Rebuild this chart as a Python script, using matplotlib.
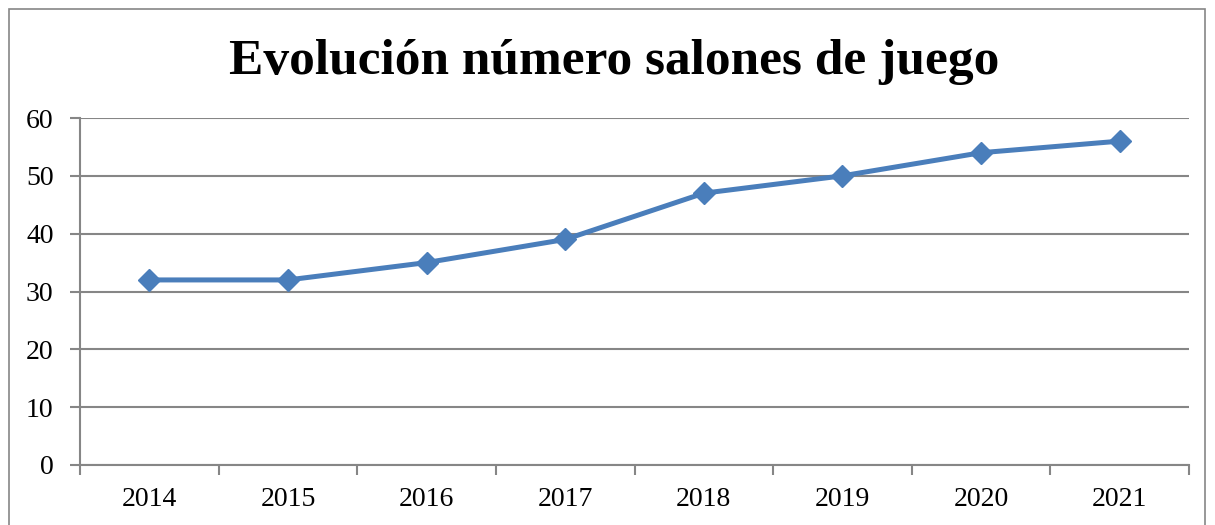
import matplotlib
matplotlib.use('Agg')
import matplotlib.pyplot as plt
from matplotlib.patches import Rectangle
import numpy as np

# datos
years = ['2014', '2015', '2016', '2017', '2018', '2019', '2020', '2021']
salones = [32, 32, 35, 39, 47, 50, 54, 56]
yticks = [0, 10, 20, 30, 40, 50, 60]

plt.rcParams['font.family'] = ['Liberation Serif', 'DejaVu Serif']

fig = plt.figure(figsize=(12.15, 5.25), dpi=100)
ax = fig.add_axes([80 / 1215, 60 / 525, 1109 / 1215, 347 / 525])

x = np.arange(len(years))
ax.plot(x, salones, color='#4A7EBB', linewidth=3.6, marker='D',
        markersize=11, markerfacecolor='#4A7EBB', markeredgecolor='#4A7EBB',
        zorder=3)

ax.set_xlim(-0.5, len(years) - 0.5)
ax.set_ylim(0, 60)
ax.set_yticks(yticks)
ax.set_yticklabels([str(v) for v in yticks])
ax.set_xticks(x)
ax.set_xticklabels(years)
ax.set_xticks(np.arange(-0.5, len(years)), minor=True)

grid_c = '#868686'
ax.grid(axis='y', color=grid_c, linewidth=1.5, zorder=0)
for s in ['top', 'right']:
    ax.spines[s].set_visible(False)
for s in ['left', 'bottom']:
    ax.spines[s].set_color(grid_c)
    ax.spines[s].set_linewidth(1.5)

ax.tick_params(axis='y', length=7, width=1.5, color=grid_c, labelsize=20, pad=12)
ax.tick_params(axis='x', which='major', length=0, labelsize=20, pad=16)
ax.tick_params(axis='x', which='minor', length=7, width=1.5, color=grid_c)

fig.text(614 / 1215, 1 - 62 / 525, 'Evolución número salones de juego',
         ha='center', va='center', fontsize=37, fontweight='bold')

# marco exterior
fig.patches.append(Rectangle((9 / 1215, -0.05), 1196 / 1215, 1.05 - 9 / 525,
                             transform=fig.transFigure, fill=False,
                             edgecolor='#868686', linewidth=1.2))

fig.savefig('out.png', dpi=100)
